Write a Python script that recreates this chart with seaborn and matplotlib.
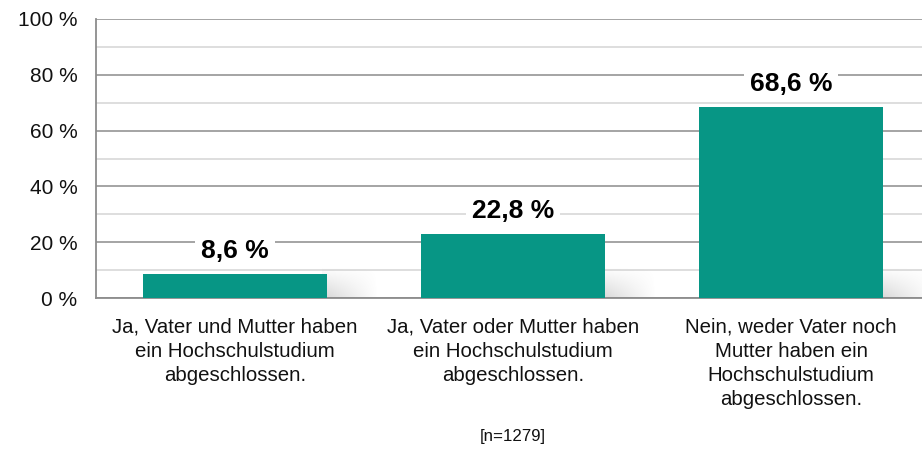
import numpy as np
import pandas as pd
import matplotlib
matplotlib.use("Agg")
import matplotlib.pyplot as plt
import seaborn as sns

categories = [
    "Ja, Vater und Mutter haben\nein Hochschulstudium\nabgeschlossen.",
    "Ja, Vater oder Mutter haben\nein Hochschulstudium\nabgeschlossen.",
    "Nein, weder Vater noch\nMutter haben ein\nHochschulstudium\nabgeschlossen.",
]
values = [8.6, 22.8, 68.6]
yticks = [0, 20, 40, 60, 80, 100]
ytick_labels = ["0 %", "20 %", "40 %", "60 %", "80 %", "100 %"]
sample_note = "[n=1279]"

BAR_COLOR = "#079685"

sns.set_theme(style="white")
plt.rcParams["font.family"] = ["Liberation Sans", "DejaVu Sans"]

df = pd.DataFrame({"Kategorie": categories, "Anteil": values})

fig = plt.figure(figsize=(9.22, 4.49), dpi=100)
ax = fig.add_axes([96 / 922, 151 / 449, 834 / 922, 279 / 449])

sns.barplot(data=df, x="Kategorie", y="Anteil", color=BAR_COLOR, saturation=1,
            width=0.665, ax=ax, zorder=3)
for p in ax.patches:
    p.set_edgecolor("none")

# soft shadow at the lower right of each bar
shade = np.zeros((20, 60, 4))
xs = np.linspace(1, 0, 60)
ys = np.linspace(0, 1, 20)
shade[..., 0:3] = 0.5
shade[..., 3] = 0.32 * np.outer(ys, xs) ** 1.0
for p in list(ax.patches):
    x1 = p.get_x() + p.get_width()
    ax.imshow(shade, extent=(x1 - 0.02, x1 + 0.18, 0, 11), aspect="auto",
              origin="upper", zorder=2, interpolation="bilinear")
ax.set_xlim(-0.5, 2.5)
ax.set_ylim(0, 100)

# grid: major lines every 20 %, lighter ones in between
ax.set_yticks(yticks)
ax.set_yticklabels(ytick_labels)
ax.set_yticks(np.arange(10, 100, 20), minor=True)
ax.yaxis.grid(True, which="major", color="#8c8c8c", linewidth=1.1, zorder=0)
ax.yaxis.grid(True, which="minor", color="#d4d4d4", linewidth=1.1, zorder=0)
ax.xaxis.grid(False)
ax.set_axisbelow(True)

for side in ["top", "right"]:
    ax.spines[side].set_visible(False)
for side in ["left", "bottom"]:
    ax.spines[side].set_color("#8c8c8c")
    ax.spines[side].set_linewidth(1.3)

ax.tick_params(axis="y", which="both", length=0, pad=13.5, labelsize=15,
               labelcolor="#111111")
ax.tick_params(axis="x", length=0, pad=14, labelsize=14.7, labelcolor="#111111")
for lbl in ax.get_xticklabels():
    lbl.set_linespacing(1.35)
    lbl.set_verticalalignment("top")

ax.set_xlabel("")
ax.set_ylabel("")

for i, v in enumerate(values):
    ax.annotate(f"{v:.1f} %".replace(".", ","), xy=(i, v), xytext=(0, 23),
                textcoords="offset pixels",
                ha="center", va="center", fontsize=19, fontweight="bold",
                color="#000000", zorder=5,
                bbox=dict(boxstyle="square,pad=0.22", fc="white", ec="none"))

fig.text(513 / 922, 1 - 437 / 449, sample_note, ha="center", va="center",
         fontsize=12.2, color="#111111")

fig.savefig("out.png", dpi=100)
